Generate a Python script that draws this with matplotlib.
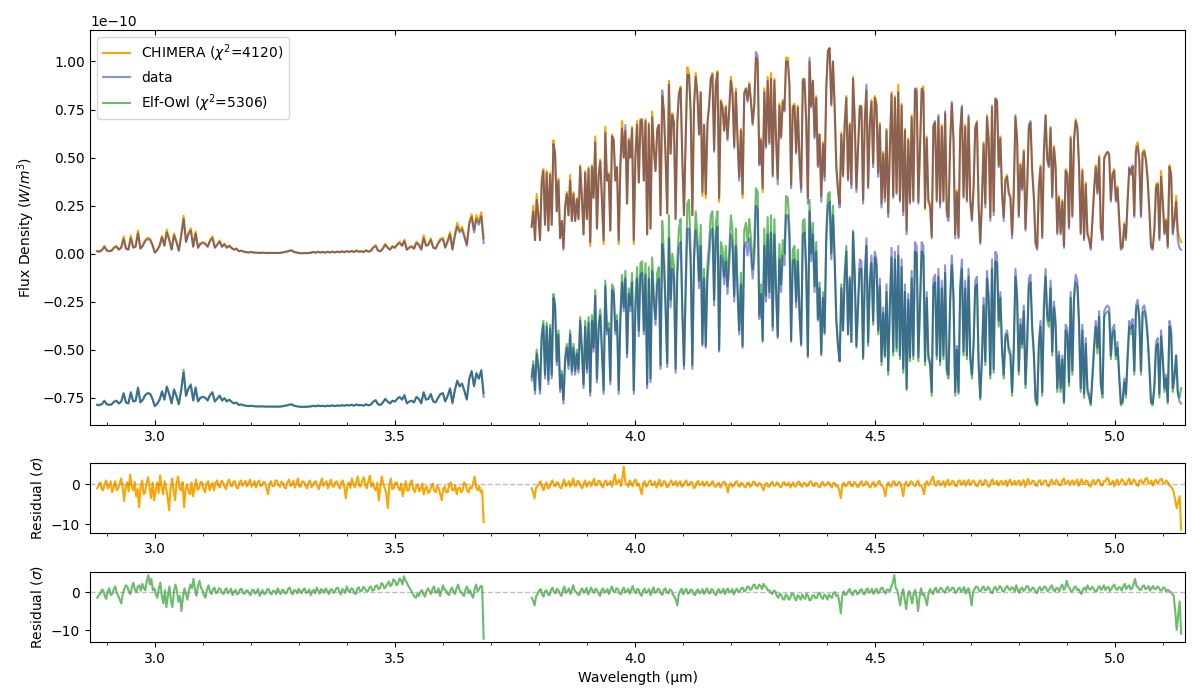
import numpy as np
import matplotlib
matplotlib.use("Agg")
import matplotlib.pyplot as plt
from matplotlib.ticker import MultipleLocator

# wavelength coverage of the two detector segments (um)
seg_a = (2.88, 3.685)
seg_b = (3.785, 5.138)
offset = 0.8  # vertical shift used for the Elf-Owl comparison (1e-10 units)

# observed spectrum, 1e-10 W/m^3
data_a = [0.012,0.010,0.018,0.035,0.015,0.012,0.015,0.030,0.035,0.020,
0.030,0.075,0.025,0.020,0.080,0.030,0.035,0.105,0.025,0.040,
0.065,0.075,0.072,0.045,0.005,0.018,0.040,0.085,0.040,0.110,
0.070,0.020,0.095,0.060,0.015,0.090,0.180,0.060,0.100,0.120,
0.035,0.105,0.030,0.050,0.055,0.050,0.035,0.065,0.080,0.030,
0.045,0.062,0.035,0.048,0.030,0.040,0.028,0.020,0.025,0.012,
0.015,0.010,0.008,0.006,0.008,0.006,0.005,0.004,0.004,0.005,
0.004,0.003,0.004,0.003,0.004,0.003,0.004,0.005,0.008,0.010,
0.014,0.016,0.008,0.006,0.003,0.002,0.002,0.003,0.003,0.005,
0.008,0.005,0.009,0.006,0.008,0.005,0.009,0.006,0.010,0.006,
0.010,0.007,0.011,0.008,0.012,0.009,0.013,0.008,0.015,0.010,
0.012,0.008,0.016,0.010,0.014,0.030,0.038,0.015,0.012,0.025,
0.045,0.030,0.020,0.035,0.030,0.045,0.055,0.040,0.065,0.020,
0.030,0.035,0.025,0.055,0.045,0.020,0.080,0.040,0.045,0.070,
0.030,0.025,0.050,0.070,0.075,0.030,0.060,0.100,0.020,0.090,
0.140,0.110,0.125,0.085,0.040,0.150,0.190,0.110,0.180,0.150,
0.195,0.055]

data_b = [0.14,0.22,0.07,0.28,0.20,0.07,0.36,0.43,0.15,0.42,0.12,0.41,0.15,0.57,0.52,0.22,0.38,0.08,0.17,0.02,
0.24,0.31,0.20,0.38,0.17,0.31,0.17,0.28,0.18,0.45,0.29,0.10,0.42,0.18,0.44,0.06,0.45,0.29,0.58,0.13,
0.40,0.48,0.28,0.07,0.63,0.38,0.41,0.12,0.61,0.59,0.38,0.45,0.07,0.45,0.65,0.50,0.67,0.26,0.59,0.50,
0.65,0.07,0.51,0.67,0.37,0.69,0.70,0.38,0.69,0.10,0.67,0.13,0.71,0.54,0.43,0.64,0.67,0.20,0.85,0.74,
0.50,0.21,0.88,0.52,0.72,0.68,0.18,0.68,0.83,0.86,0.49,0.20,0.59,0.93,0.93,0.74,0.20,
0.76,0.92,0.83,0.62,0.84,0.32,0.67,0.31,0.67,0.77,0.91,0.93,0.53,0.88,0.94,0.29,0.79,0.76,0.64,0.76,
0.59,0.74,0.90,0.83,0.55,0.84,0.59,0.38,0.64,0.31,0.83,0.86,0.79,0.88,0.79,0.67,0.77,1.05,1.03,0.46,
0.59,0.34,0.84,0.55,0.90,0.57,0.91,0.40,0.90,0.59,0.36,0.77,0.60,0.79,0.74,1.00,1.00,0.88,0.34,0.76,
0.77,0.52,0.76,0.48,0.32,0.90,0.91,0.69,0.26,1.02,0.76,0.90,0.60,0.81,0.45,0.62,0.27,0.57,0.38,0.86,
1.05,1.07,0.77,1.00,0.76,0.45,0.32,0.24,0.62,0.40,0.67,0.81,0.38,0.67,0.34,0.91,0.69,0.32,
0.55,0.77,0.76,0.26,0.69,0.88,0.34,0.67,0.79,0.45,0.81,0.77,0.40,0.67,0.24,0.52,0.27,0.64,0.19,0.55,
0.83,0.29,0.81,0.31,0.84,0.27,0.77,0.20,0.64,0.10,0.59,0.26,0.71,0.27,0.86,0.84,0.26,0.55,0.86,0.84,
0.24,0.60,0.27,0.24,0.08,0.67,0.69,0.27,0.72,0.24,0.66,0.27,0.74,0.20,0.17,0.57,0.79,0.59,0.08,0.32,
0.08,0.64,0.77,0.29,0.66,0.27,0.72,0.27,0.17,0.34,0.66,0.68,0.24,0.05,0.27,0.57,0.24,0.71,0.59,0.17,
0.77,0.20,0.81,0.79,0.45,0.60,0.31,0.17,0.38,0.40,0.31,0.29,0.08,0.31,0.72,0.59,0.19,0.46,
0.33,0.53,0.12,0.34,0.67,0.69,0.43,0.29,0.05,0.02,0.34,0.45,0.08,0.53,0.72,0.48,0.45,0.66,0.29,0.55,
0.45,0.10,0.29,0.10,0.27,0.03,0.43,0.41,0.13,0.60,0.19,0.59,0.69,0.66,0.45,0.10,0.43,0.07,0.36,0.10,
0.07,0.02,0.17,0.33,0.45,0.31,0.50,0.13,0.07,0.50,0.52,0.53,0.52,0.27,0.41,0.43,0.27,0.34,0.17,0.02,
0.03,0.15,0.07,0.27,0.45,0.41,0.46,0.19,0.53,0.56,0.48,0.19,0.52,0.53,0.48,0.38,0.22,0.03,0.02,0.12,
0.34,0.36,0.07,0.40,0.27,0.10,0.17,0.03,0.45,0.41,0.10,0.17,0.27,0.07,0.03,0.02]

# CHIMERA best fit
chimera_a = [0.014,0.012,0.020,0.040,0.017,0.014,0.017,0.034,0.040,0.022,
0.033,0.090,0.027,0.022,0.095,0.033,0.038,0.120,0.027,0.044,
0.070,0.082,0.078,0.048,0.006,0.020,0.044,0.092,0.043,0.125,
0.075,0.022,0.105,0.064,0.016,0.098,0.197,0.064,0.108,0.132,
0.037,0.115,0.032,0.054,0.060,0.054,0.037,0.070,0.090,0.032,
0.048,0.068,0.037,0.052,0.032,0.043,0.030,0.021,0.027,0.013,
0.016,0.011,0.008,0.006,0.009,0.006,0.005,0.004,0.004,0.005,
0.004,0.003,0.004,0.003,0.004,0.003,0.004,0.005,0.009,0.011,
0.016,0.018,0.009,0.006,0.003,0.002,0.002,0.003,0.003,0.005,
0.009,0.005,0.010,0.006,0.009,0.005,0.010,0.006,0.011,0.006,
0.011,0.007,0.012,0.008,0.013,0.009,0.014,0.008,0.017,0.010,
0.013,0.008,0.018,0.010,0.015,0.034,0.045,0.016,0.013,0.028,
0.052,0.032,0.022,0.040,0.032,0.050,0.062,0.042,0.072,0.022,
0.033,0.040,0.027,0.062,0.050,0.022,0.095,0.043,0.050,0.080,
0.032,0.028,0.056,0.078,0.082,0.034,0.068,0.112,0.024,0.100,
0.160,0.120,0.140,0.095,0.050,0.165,0.205,0.125,0.200,0.165,
0.215,0.080]

chimera_b = [0.14,0.25,0.07,0.31,0.20,0.07,0.39,0.44,0.15,0.43,0.12,0.42,0.15,0.59,0.52,0.22,0.39,0.08,0.17,0.03,
0.25,0.32,0.20,0.41,0.17,0.32,0.17,0.29,0.18,0.46,0.29,0.10,0.43,0.18,0.45,0.04,0.46,0.29,0.61,0.13,
0.41,0.49,0.28,0.05,0.66,0.38,0.42,0.12,0.62,0.59,0.38,0.45,0.05,0.46,0.69,0.50,0.64,0.26,0.60,0.50,
0.66,0.05,0.52,0.69,0.37,0.70,0.68,0.38,0.70,0.10,0.68,0.13,0.74,0.54,0.43,0.65,0.67,0.20,0.82,0.74,
0.51,0.21,0.90,0.52,0.73,0.68,0.18,0.69,0.84,0.87,0.49,0.20,0.60,0.97,0.94,0.74,0.20,
0.78,0.94,0.83,0.62,0.84,0.30,0.67,0.29,0.68,0.77,0.91,0.94,0.54,0.89,0.95,0.27,0.80,0.77,0.64,0.77,
0.60,0.75,0.92,0.84,0.56,0.86,0.60,0.40,0.65,0.29,0.84,0.86,0.80,0.89,0.80,0.68,0.78,1.02,1.00,0.47,
0.60,0.32,0.86,0.56,0.92,0.58,0.94,0.41,0.91,0.60,0.39,0.78,0.61,0.80,0.75,1.02,1.02,0.88,0.36,0.77,
0.78,0.53,0.77,0.49,0.34,0.91,0.89,0.70,0.29,1.00,0.77,0.90,0.61,0.82,0.46,0.62,0.30,0.58,0.40,0.87,
1.06,1.07,0.78,1.00,0.77,0.46,0.34,0.26,0.63,0.41,0.68,0.82,0.39,0.68,0.36,0.92,0.70,0.34,
0.56,0.76,0.77,0.28,0.70,0.85,0.35,0.68,0.80,0.47,0.82,0.78,0.42,0.68,0.26,0.53,0.29,0.65,0.21,0.56,
0.84,0.30,0.82,0.32,0.88,0.28,0.78,0.22,0.65,0.12,0.60,0.27,0.72,0.28,0.85,0.86,0.27,0.56,0.85,0.87,
0.23,0.61,0.28,0.26,0.09,0.66,0.68,0.28,0.71,0.26,0.67,0.28,0.73,0.22,0.19,0.58,0.78,0.60,0.10,0.33,
0.09,0.63,0.76,0.30,0.67,0.28,0.71,0.28,0.18,0.35,0.65,0.69,0.26,0.06,0.28,0.58,0.26,0.72,0.60,0.19,
0.76,0.22,0.80,0.80,0.46,0.61,0.32,0.19,0.39,0.41,0.32,0.30,0.10,0.33,0.71,0.60,0.20,0.47,
0.34,0.54,0.13,0.35,0.65,0.68,0.44,0.30,0.06,0.03,0.35,0.46,0.09,0.52,0.72,0.50,0.46,0.65,0.30,0.56,
0.46,0.11,0.30,0.11,0.28,0.04,0.44,0.42,0.14,0.61,0.20,0.60,0.70,0.65,0.46,0.11,0.44,0.08,0.37,0.11,
0.08,0.03,0.18,0.34,0.46,0.32,0.51,0.14,0.08,0.49,0.51,0.53,0.51,0.28,0.42,0.44,0.28,0.35,0.18,0.03,
0.04,0.16,0.08,0.28,0.44,0.42,0.45,0.20,0.56,0.58,0.49,0.20,0.53,0.54,0.49,0.39,0.23,0.04,0.03,0.13,
0.36,0.37,0.08,0.43,0.28,0.11,0.18,0.04,0.46,0.42,0.11,0.18,0.30,0.12,0.08,0.06]

# Elf-Owl best fit
elfowl_a = [0.014,0.013,0.017,0.033,0.016,0.014,0.016,0.028,0.033,0.021,
0.029,0.070,0.026,0.021,0.075,0.031,0.034,0.098,0.027,0.040,
0.062,0.072,0.070,0.045,0.008,0.019,0.040,0.080,0.041,0.105,
0.068,0.022,0.090,0.058,0.017,0.088,0.195,0.060,0.095,0.115,
0.037,0.100,0.032,0.050,0.054,0.050,0.036,0.062,0.076,0.031,
0.045,0.060,0.036,0.047,0.031,0.040,0.029,0.021,0.025,0.013,
0.015,0.011,0.009,0.007,0.008,0.007,0.006,0.005,0.005,0.005,
0.004,0.004,0.004,0.004,0.004,0.004,0.004,0.005,0.008,0.010,
0.013,0.015,0.009,0.006,0.004,0.003,0.003,0.003,0.004,0.005,
0.008,0.006,0.009,0.007,0.008,0.006,0.009,0.007,0.010,0.007,
0.010,0.008,0.011,0.009,0.012,0.010,0.013,0.009,0.015,0.011,
0.012,0.009,0.016,0.011,0.014,0.029,0.036,0.016,0.013,0.024,
0.043,0.030,0.021,0.034,0.030,0.044,0.053,0.040,0.062,0.022,
0.030,0.034,0.026,0.053,0.044,0.022,0.076,0.040,0.044,0.068,
0.031,0.027,0.049,0.068,0.072,0.032,0.058,0.096,0.025,0.088,
0.136,0.108,0.122,0.084,0.042,0.146,0.186,0.110,0.176,0.148,
0.190,0.075]

elfowl_b = [0.16,0.24,0.09,0.30,0.22,0.09,0.38,0.45,0.17,0.44,0.14,0.43,0.17,0.59,0.54,0.24,0.40,0.10,0.19,0.04,
0.26,0.33,0.22,0.40,0.19,0.33,0.19,0.30,0.20,0.47,0.31,0.12,0.45,0.20,0.47,0.08,0.48,0.31,0.61,0.15,
0.43,0.51,0.30,0.09,0.66,0.40,0.44,0.14,0.64,0.62,0.40,0.48,0.09,0.48,0.69,0.52,0.71,0.28,0.62,0.53,
0.70,0.09,0.56,0.73,0.40,0.75,0.76,0.40,0.75,0.12,0.73,0.15,0.78,0.58,0.46,0.70,0.73,0.22,0.97,0.80,
0.54,0.23,1.00,0.56,0.80,0.74,0.20,0.76,0.93,0.98,0.53,0.22,0.65,1.06,1.08,0.80,0.22,
0.80,1.02,0.90,0.66,0.95,0.33,0.72,0.32,0.74,0.85,1.00,1.02,0.56,0.96,1.02,0.30,0.86,0.83,0.68,0.84,
0.63,0.82,1.00,0.92,0.58,0.93,0.63,0.40,0.70,0.32,0.92,0.96,0.86,0.98,0.88,0.72,0.86,1.14,1.12,0.48,
0.64,0.35,0.93,0.58,0.99,0.60,1.00,0.42,0.98,0.63,0.37,0.85,0.64,0.87,0.80,1.10,1.09,0.94,0.35,0.82,
0.84,0.55,0.82,0.50,0.33,0.97,0.98,0.73,0.27,1.08,0.80,0.96,0.63,0.86,0.46,0.65,0.28,0.60,0.39,0.92,
1.11,1.12,0.80,1.05,0.78,0.46,0.32,0.24,0.64,0.40,0.69,0.84,0.38,0.68,0.34,0.92,0.69,0.31,
0.52,0.72,0.72,0.25,0.66,0.84,0.32,0.63,0.75,0.43,0.78,0.74,0.38,0.63,0.22,0.49,0.26,0.60,0.17,0.52,
0.78,0.27,0.77,0.29,0.79,0.25,0.73,0.18,0.60,0.09,0.56,0.24,0.67,0.25,0.81,0.80,0.24,0.52,0.81,0.79,
0.22,0.57,0.25,0.22,0.06,0.63,0.65,0.25,0.68,0.22,0.62,0.25,0.70,0.18,0.15,0.54,0.74,0.56,0.06,0.30,
0.07,0.60,0.72,0.27,0.62,0.25,0.68,0.25,0.15,0.32,0.62,0.64,0.22,0.04,0.25,0.53,0.22,0.67,0.55,0.15,
0.72,0.18,0.76,0.75,0.42,0.57,0.29,0.15,0.36,0.38,0.29,0.27,0.06,0.29,0.68,0.55,0.17,0.43,
0.31,0.50,0.10,0.32,0.63,0.65,0.40,0.27,0.03,0.01,0.31,0.42,0.06,0.50,0.68,0.45,0.42,0.62,0.27,0.52,
0.42,0.08,0.27,0.08,0.25,0.02,0.40,0.38,0.11,0.57,0.17,0.56,0.65,0.63,0.42,0.08,0.40,0.05,0.33,0.08,
0.05,0.01,0.15,0.30,0.42,0.28,0.47,0.11,0.05,0.47,0.49,0.50,0.49,0.25,0.38,0.40,0.25,0.31,0.15,0.01,
0.02,0.13,0.05,0.25,0.42,0.38,0.43,0.17,0.50,0.53,0.45,0.17,0.49,0.50,0.45,0.35,0.20,0.02,0.01,0.10,
0.31,0.33,0.05,0.37,0.25,0.08,0.15,0.02,0.42,0.38,0.08,0.15,0.27,0.08,0.05,0.10]

# normalised residuals (sigma)
res_chimera_a = [-1.0,-0.2,0.5,-1.2,-1.5,0.3,1.0,-1.0,-0.5,0.8,-2.0,-0.6,0.8,-1.5,-1.0,0.2,1.5,-0.8,-4.2,-0.5,
0.5,-1.8,2.5,-0.4,-1.5,0.6,-3.0,-1.2,-5.8,-0.5,1.0,-2.5,-2.0,0.4,1.8,-1.0,-3.5,0.5,-4.0,-1.5,
0.5,-2.2,2.2,-0.5,-2.5,0.8,-1.0,-3.2,-6.5,-0.8,1.5,-1.6,-4.0,0.2,2.0,-1.0,-1.5,0.6,-5.8,-1.2,
0.0,-1.8,-2.5,0.5,-3.0,-0.8,1.2,-1.4,-1.0,0.6,0.5,-1.2,-2.0,0.2,0.8,-1.5,-0.5,0.4,-1.5,0.3,
1.0,-0.4,-0.8,0.9,0.5,-0.6,-1.2,0.4,1.2,-0.3,-0.5,0.7,0.8,-0.8,-1.0,0.5,1.0,-0.4,0.2,0.9,
-0.5,0.3,1.2,-0.6,0.0,0.8,-0.8,0.3,1.0,-0.5,-0.3,0.6,0.5,-1.0,-2.5,0.2,0.8,-0.4,-0.5,0.9,
1.0,-0.2,-0.6,0.7,0.4,-0.8,-1.0,0.5,1.2,-0.4,0.0,0.9,-0.8,0.2,1.5,-0.6,-0.5,0.8,0.6,-0.3,
-1.0,0.4,1.0,-0.7,-0.3,0.6,0.8,-0.5,-1.2,0.3,1.5,-0.4,0.2,0.8,-1.0,0.1,1.2,-0.5,-0.6,0.6,
0.8,-0.3,-1.0,0.5,1.0,-0.8,-3.5,-0.2,0.5,-0.9,1.5,0.2,-0.8,0.6,2.0,-0.5,-0.5,1.0,1.8,-0.2,
-1.0,0.8,2.2,-0.6,0.5,-1.0,-1.5,0.4,-4.0,-0.8,2.0,0.2,-1.0,-2.2,-6.0,-0.5,1.5,-1.2,-1.0,0.4,
0.5,-0.8,-1.5,0.2,-3.0,-1.0,0.8,-1.6,-1.5,0.3,1.0,-1.2,-2.0,-0.5,0.0,-1.8,-1.0,0.2,-2.5,-1.0,
-0.5,-2.2,-1.8,-0.6,0.2,-1.5,-2.0,-0.3,-1.0,-2.5,-4.0,-1.2,-0.5,-2.0,-2.0,0.0,0.5,-1.4,-1.5,-0.2,
-2.5,-1.0,-0.8,-2.0,-1.5,0.5,0.0,-1.6,-2.0,-0.6,-1.0,0.4,2.0,-0.8,-1.5,-0.4,-2.0,-1.5,-9.5]

res_chimera_b = [-1.0,-2.0,-3.5,-0.8,-0.5,0.2,0.8,-0.6,-1.5,-0.2,0.5,-1.0,-0.8,0.4,1.0,-0.3,-0.5,0.6,0.3,-0.8,
-1.0,0.4,1.2,-0.5,0.0,0.8,-0.6,0.3,1.5,-0.4,-0.3,0.9,0.6,-0.5,-1.0,0.2,1.0,-0.6,0.2,0.7,
-0.5,0.6,1.4,-0.3,-0.2,0.9,0.8,-0.4,-0.8,0.5,1.0,-0.2,0.3,0.8,-0.6,1.0,2.5,0.2,0.5,1.2,
-0.5,1.5,4.5,0.6,0.0,-0.6,1.0,0.2,-0.5,0.8,1.2,-0.4,0.2,-1.0,-2.5,0.3,0.8,-0.6,-0.3,0.7,
1.0,-0.3,0.0,0.7,-0.8,0.2,1.2,-0.5,-0.2,0.9,0.6,-0.7,-0.6,0.4,1.0,-0.2,0.2,0.8,-0.5,0.3,
0.8,-0.6,-0.4,0.5,1.0,-0.3,-0.2,0.6,0.5,-0.9,-0.8,0.4,0.9,-0.2,0.0,0.7,-0.5,0.2,0.7,-0.4,
-0.3,0.5,0.8,-0.5,-0.6,0.2,0.4,-0.8,-0.2,0.7,0.6,-0.4,-2.0,-0.2,0.3,-0.6,-0.4,0.5,0.8,-0.3,
-0.6,0.4,0.2,-0.5,-0.8,0.3,0.5,-0.6,-0.3,0.7,0.6,-0.2,-0.5,0.4,0.1,-0.7,-1.5,-0.2,0.4,-0.5,
-0.6,0.3,0.7,-0.4,-0.3,0.5,0.2,-0.6,-0.7,0.4,0.6,-0.3,-0.2,0.5,-0.8,-0.1,0.5,-0.6,-0.4,0.6,
0.7,-0.3,-0.6,0.4,0.3,-0.5,-0.3,0.6,0.8,-0.2,-0.5,0.4,0.2,-0.6,-0.7,0.3,0.6,-0.4,-0.2,0.5,
0.5,-0.3,-0.8,0.4,0.3,-0.6,-0.4,-1.5,-3.5,-0.2,0.4,-0.5,-0.3,0.5,0.7,-0.4,-0.5,0.6,0.2,-0.6,
-0.6,0.3,0.8,-0.4,-0.2,0.7,0.5,-0.5,-0.8,0.2,0.6,-0.6,-0.3,0.5,0.9,-0.2,-0.4,-1.2,-3.0,-0.3,
0.5,-0.4,-0.6,0.6,0.8,-0.3,-0.2,0.6,0.4,-1.0,-3.0,-0.2,0.7,-0.5,-0.3,0.8,0.6,-0.2,-0.5,0.4,
1.0,-0.4,-0.2,-1.0,-2.5,0.3,0.8,-0.2,0.2,1.2,2.0,0.1,-0.4,0.7,0.9,-0.3,0.1,0.8,-0.6,0.5,
1.2,-0.2,0.0,0.9,0.7,-0.3,-0.5,0.8,1.0,-0.1,0.3,1.0,-0.4,0.5,1.1,-0.2,0.2,1.0,0.6,-0.3,
-0.5,0.6,1.0,-0.2,0.0,1.1,0.8,-0.4,-0.6,0.7,1.3,0.0,0.2,0.9,-0.3,0.5,0.9,-0.1,0.4,1.0,
-0.5,0.7,1.2,-0.1,0.3,0.9,-0.2,0.6,1.0,-0.3,0.5,1.1,-0.6,0.3,1.4,0.2,0.1,0.9,0.8,-0.2,
-0.4,0.8,1.1,-0.1,0.3,1.0,0.9,-0.3,-0.5,0.7,1.2,0.0,0.2,1.1,0.6,-0.2,-0.3,0.9,1.5,0.2,
0.4,1.0,-0.2,0.6,1.0,-0.1,0.6,1.2,-0.4,0.5,1.3,0.0,0.2,1.0,0.8,-0.3,-0.6,0.7,1.1,0.1,
0.3,1.2,1.0,-0.2,-0.3,0.8,0.7,1.6,1.4,0.0,0.1,0.9,-0.5,0.6,1.2,-0.1,0.4,1.3,0.9,0.2,
-0.2,0.8,1.5,0.1,0.3,1.2,0.8,-0.2,-0.4,0.9,1.1,0.2,0.5,1.4,1.6,0.3,0.2,1.0,-0.3,0.6,
1.2,0.2,0.6,1.3,1.4,0.2,0.3,1.0,0.5,-0.2,-0.5,-1.0,-2.0,-4.0,-6.0,-4.5,-3.0,-11.4]

res_elfowl_a = [-1.5,-0.8,-0.5,0.6,0.5,-1.0,-1.8,0.2,1.0,-0.8,-0.5,0.7,1.5,-0.2,-1.0,-2.0,-3.0,-0.5,0.8,1.8,
1.5,0.2,-0.5,1.2,2.5,0.8,0.0,1.5,1.8,0.4,2.2,1.0,0.5,3.0,4.5,2.0,3.5,0.5,1.0,-0.5,
-1.5,1.0,2.5,-1.0,-3.0,0.5,-4.0,-1.0,1.5,-2.0,-4.0,0.0,2.0,0.5,-2.5,-1.0,-5.0,-1.5,1.0,-0.5,
-2.0,0.5,2.0,1.0,3.5,0.8,-1.0,1.5,3.0,1.2,0.5,-0.8,-1.5,0.6,1.8,0.2,-0.5,0.8,1.2,-0.3,
0.0,1.0,0.8,-0.2,-0.5,0.6,1.0,-0.3,0.2,0.9,-0.8,0.1,0.6,-0.6,-0.3,0.7,0.9,-0.2,-0.5,0.4,
0.4,-0.3,-0.8,0.5,0.6,-0.4,0.0,0.8,-1.0,-0.2,0.5,-0.5,-0.4,0.7,0.8,-0.2,-0.6,0.4,0.2,-0.5,
1.0,0.2,-0.5,0.6,0.5,-0.4,-0.2,0.9,1.2,0.0,-0.6,0.5,0.4,-0.3,0.9,0.3,-0.3,0.6,1.0,-0.2,
0.0,0.7,-0.8,0.2,0.6,-0.3,1.2,0.4,-0.4,0.8,0.5,-0.2,1.0,0.3,-0.5,0.6,0.8,-0.2,0.2,1.0,
1.2,0.1,-0.6,0.8,0.5,-0.2,1.5,0.4,0.0,1.0,0.8,-0.3,-0.5,0.9,1.3,0.2,0.4,1.4,1.0,0.3,
0.2,1.2,1.5,0.4,0.5,1.6,1.8,0.8,1.0,2.4,2.0,1.0,1.5,2.2,2.8,1.6,2.0,3.4,3.0,1.8,
2.2,3.6,3.2,2.0,4.2,3.0,2.5,1.5,1.0,0.2,-0.5,-1.2,-1.5,-0.4,-1.0,0.2,0.5,-0.6,-1.2,0.3,
1.0,0.2,-0.5,0.8,1.5,-0.2,0.0,1.0,-1.0,0.4,1.8,0.6,0.5,-0.4,-0.8,0.6,1.2,0.0,-0.5,1.0,
2.0,0.6,0.0,-0.6,-1.0,0.8,1.5,-0.3,0.5,-0.8,-1.5,0.8,2.0,0.2,0.8,1.6,1.5,-12.3]

res_elfowl_b = [-1.5,-2.2,-3.5,-1.0,-0.5,0.4,0.8,-0.5,-1.2,0.2,0.5,-0.6,-0.8,0.6,1.2,0.0,-0.3,0.9,0.5,-0.4,
-1.0,0.5,1.5,-0.2,0.2,1.0,-0.5,0.6,1.8,0.3,0.0,-0.6,-0.8,0.5,1.0,-0.2,0.4,1.1,-0.6,0.2,
1.2,0.3,-0.2,0.9,0.6,-0.4,-1.0,0.5,1.0,-0.2,0.3,0.8,-0.5,0.6,1.5,0.2,0.0,1.0,0.8,-0.3,
-0.6,0.5,1.2,-0.1,0.2,0.9,-0.4,0.6,1.6,0.2,-0.3,0.8,0.7,-0.5,-1.0,0.4,0.9,-0.2,0.1,0.8,
-0.8,0.4,1.3,-0.2,0.0,0.9,0.6,-0.4,-0.7,0.6,1.0,-0.1,-0.3,0.7,0.5,-0.6,-1.2,-2.0,-3.5,-0.5,
0.4,0.9,-0.6,0.3,0.9,-0.4,-0.2,0.7,0.5,-0.5,-0.8,0.4,0.7,-0.3,0.0,0.8,-0.5,0.3,1.0,-0.2,
-0.3,0.8,0.6,-0.4,-0.8,0.3,0.8,-0.2,0.0,0.9,-0.5,0.4,1.0,-0.1,0.2,0.8,-0.6,0.3,0.9,0.0,
0.3,1.0,1.2,0.2,0.5,1.4,1.5,0.6,0.8,1.8,2.0,0.9,1.0,2.0,1.6,0.8,2.2,1.5,1.2,0.4,
0.5,-0.2,-0.5,0.4,0.2,-1.0,-1.5,-0.4,-0.8,-1.8,-2.0,-0.6,-1.0,-2.0,-1.5,-0.3,-0.5,-1.6,-2.2,-0.8,
-1.2,-2.0,-0.6,-1.4,-1.8,-0.4,-1.0,-2.2,-2.0,-0.9,-0.8,-1.6,-1.5,-0.2,-0.5,-1.4,-1.8,-0.6,-1.0,-2.0,
-0.6,-1.2,-1.5,-0.2,0.0,-1.0,-0.8,-2.5,-5.6,-1.0,0.2,-0.8,-0.5,0.4,0.8,-0.3,-0.8,0.3,0.5,-0.6,
-0.3,0.5,0.8,-0.4,-0.6,0.6,1.0,-0.2,0.2,0.9,-0.5,0.3,0.9,-0.3,0.0,1.0,1.2,0.2,-0.4,0.7,
0.6,0.2,1.5,2.5,4.5,1.0,0.5,-1.5,-3.5,-0.5,0.8,-2.0,-4.5,-1.0,0.3,-1.2,-3.0,-0.4,0.6,-1.5,
-5.0,-1.2,1.0,-0.8,-0.5,-2.0,-3.5,-0.4,0.8,0.2,-0.5,0.6,1.2,-0.1,0.3,1.1,1.0,0.2,-0.2,0.9,
1.4,0.3,0.5,1.2,1.0,-0.2,0.0,0.9,1.2,0.1,0.6,1.3,-0.4,0.5,1.0,-1.0,-3.5,0.0,0.8,1.5,
1.3,0.4,0.2,1.1,1.5,0.5,0.6,1.4,0.9,0.0,-0.3,1.0,1.4,0.4,0.8,1.6,1.2,0.2,0.3,1.2,
1.6,0.8,0.5,1.3,1.0,0.2,1.8,0.6,-0.2,0.9,1.2,0.3,0.7,1.6,1.5,0.4,0.4,1.2,1.0,0.1,
-0.3,0.9,1.4,0.4,0.8,1.5,1.2,0.3,0.5,1.3,1.8,0.6,0.2,1.1,1.0,0.2,1.5,2.0,0.6,1.2,
3.0,1.5,1.0,0.2,0.4,1.2,1.5,0.5,0.8,0.0,-0.5,0.8,1.2,0.4,1.8,0.9,0.6,1.4,1.0,0.3,
0.2,1.1,1.6,0.6,1.0,1.8,0.5,1.2,1.4,0.3,0.8,1.5,2.0,0.9,0.6,1.3,1.2,0.4,1.5,2.2,
0.8,1.4,1.8,0.7,1.0,2.2,3.5,1.5,1.4,0.6,0.6,1.5,1.8,0.8,1.0,1.6,0.4,1.0,1.6,0.9,
0.8,1.5,1.2,0.4,0.5,1.3,1.0,0.2,0.6,0.3,0.0,-0.5,-1.0,-5.0,-10.0,-6.0,-2.5,-11.0]

assert len(chimera_a) == len(data_a) == len(elfowl_a)
assert len(chimera_b) == len(data_b) == len(elfowl_b)


def join(a, b, scale=1.0):
    # two segments with a gap in between
    wa = np.linspace(seg_a[0], seg_a[1], len(a))
    wb = np.linspace(seg_b[0], seg_b[1], len(b))
    w = np.concatenate([wa, [np.nan], wb])
    f = np.concatenate([np.array(a), [np.nan], np.array(b)]) * scale
    return w, f


wl, flux = join(data_a, data_b, 1e-10)
_, f_chim = join(chimera_a, chimera_b, 1e-10)
_, f_elf = join(elfowl_a, elfowl_b, 1e-10)
wl_r1, r_chim = join(res_chimera_a, res_chimera_b)
wl_r2, r_elf = join(res_elfowl_a, res_elfowl_b)

data_color = '#0010b4'
green = 'tab:green'
xlim = (2.865, 5.146)

fig = plt.figure(figsize=(12, 7), dpi=100)
ax = fig.add_axes([0.075, 0.393, 0.9125, 0.564])
ax_r1 = fig.add_axes([0.075, 0.239, 0.9125, 0.099])
ax_r2 = fig.add_axes([0.075, 0.083, 0.9125, 0.100])

ax.plot(wl, f_chim, color='orange', lw=1.5, label=r'CHIMERA ($\chi^2$=4120)', zorder=1)
ax.plot(wl, flux, color=data_color, alpha=0.45, lw=1.5, label='data', zorder=3)
ax.plot(wl, f_elf - offset * 1e-10, color=green, alpha=0.7, lw=1.5,
        label=r'Elf-Owl ($\chi^2$=5306)', zorder=2)
ax.plot(wl, flux - offset * 1e-10, color=data_color, alpha=0.45, lw=1.5, zorder=3)
ax.set_xlim(*xlim)
ax.set_ylabel('Flux Density ($W/m^3$)')
ax.legend(loc='upper left')
ax.xaxis.set_major_locator(MultipleLocator(0.5))
ax.xaxis.set_minor_locator(MultipleLocator(0.1))
ax.tick_params(which='major', direction='in', top=True)
ax.tick_params(which='minor', direction='in')

for a, w, r, c, al in [(ax_r1, wl_r1, r_chim, 'orange', 1.0), (ax_r2, wl_r2, r_elf, green, 0.7)]:
    a.plot(w, r, color=c, alpha=al, lw=1.5)
    a.axhline(0, color='gray', ls='--', lw=1, alpha=0.5)
    a.set_xlim(*xlim)
    a.set_ylabel(r'Residual ($\sigma$)')
    a.xaxis.set_major_locator(MultipleLocator(0.5))
    a.xaxis.set_minor_locator(MultipleLocator(0.1))

ax_r2.set_xlabel('Wavelength (µm)')

fig.savefig('out.png', dpi=100)
